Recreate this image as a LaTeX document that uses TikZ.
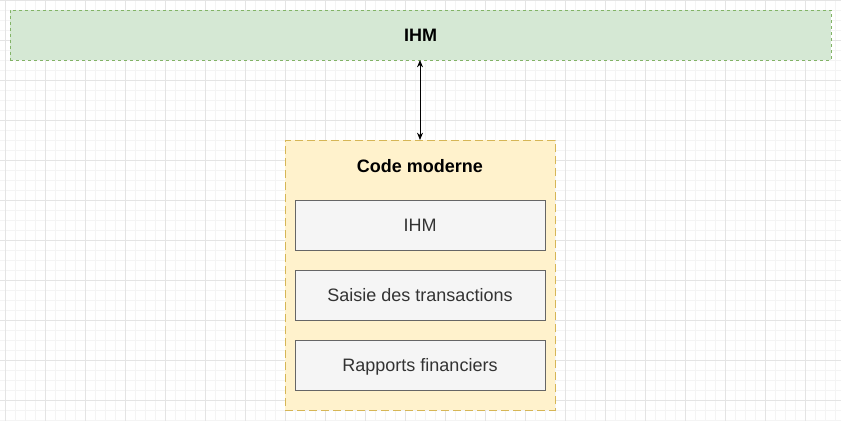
\documentclass[tikz,border=0pt]{standalone}
\usepackage{fontspec}
\setmainfont{Liberation Sans}
\usepackage{tikz}
\usetikzlibrary{arrows.meta,positioning,calc}

\definecolor{ihmfill}{HTML}{D5E8D4}
\definecolor{ihmline}{HTML}{82B366}
\definecolor{codefill}{HTML}{FFF2CC}
\definecolor{codeline}{HTML}{D6B656}
\definecolor{partfill}{HTML}{F5F5F5}
\definecolor{partline}{HTML}{666666}
\definecolor{parttext}{HTML}{333333}
\definecolor{gridmin}{HTML}{F4F4F4}
\definecolor{gridmaj}{HTML}{E4E4E4}

\begin{document}
\begin{tikzpicture}[x=0.75pt,y=-0.75pt,
    ihmbar/.style={rectangle,draw=ihmline,fill=ihmfill,line width=0.75pt,
      dash pattern=on 2.25pt off 2.25pt,minimum width=615.75pt,minimum height=37.5pt,
      inner sep=0pt,outer sep=0pt,font=\fontsize{13.5}{16}\selectfont\bfseries},
    codebox/.style={rectangle,draw=codeline,fill=codefill,line width=0.75pt,
      dash pattern=on 6pt off 3pt,minimum width=202.5pt,minimum height=202.5pt,
      inner sep=0pt,outer sep=0pt},
    part/.style={rectangle,draw=partline,fill=partfill,line width=0.75pt,
      minimum width=187.5pt,minimum height=37.5pt,inner sep=0pt,outer sep=0pt,
      text height=9.8pt,text depth=0.2pt,
      text=parttext,font=\fontsize{13.5}{16}\selectfont}]
    \useasboundingbox (0,0) rectangle (841,421);

    % --- grid ---
    \foreach \gx in {5,15,...,835} \draw[gridmin,line width=0.75pt] (\gx,0) -- (\gx,421);
    \foreach \gy in {0,10,...,420} \draw[gridmin,line width=0.75pt] (0,\gy) -- (841,\gy);
    \foreach \gx in {5,45,...,805} \draw[gridmaj,line width=0.75pt] (\gx,0) -- (\gx,421);
    \foreach \gy in {0,40,...,400} \draw[gridmaj,line width=0.75pt] (0,\gy) -- (841,\gy);

    % --- top bar ---
    \node[ihmbar] (ihm) at (420.5,35) {IHM};

    % --- modern code block ---
    \node[codebox] (code) at (420,275) {};
    \node[font=\fontsize{13.5}{16}\selectfont\bfseries] (codetitle) at (420,166) {Code moderne};
    \node[part] (ihmpart) at (420,225) {IHM};
    \node[part] (saisie) at (420,295) {Saisie des transactions};
    \node[part] (rapports) at (420,365) {Rapports financiers};

    \draw[line width=0.75pt,{Stealth[length=5.5pt,width=4.5pt]}-{Stealth[length=5.5pt,width=4.5pt]}]
      (ihm.south -| code.north) -- (code.north);
  \end{tikzpicture}
\end{document}
